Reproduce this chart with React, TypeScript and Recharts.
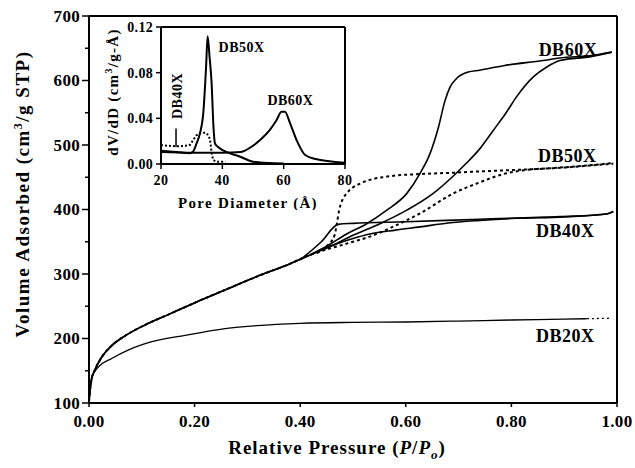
import React from "react";
import { LineChart, Line, XAxis, YAxis, ReferenceLine, ReferenceDot } from "recharts";

const FONT = '"Liberation Serif", "Times New Roman", serif';

// N2 isotherms, [P/P0, volume adsorbed cm3/g STP]
const lowBranch: [number, number][] = [
  [0, 102], [0.002, 120], [0.005, 137], [0.011, 151], [0.024, 171], [0.043, 189],
  [0.068, 204], [0.106, 221], [0.15, 237], [0.191, 252], [0.213, 260], [0.254, 274],
  [0.318, 296], [0.381, 316], [0.42, 330],
];
const db20x: [number, number][] = [
  [0, 102], [0.002, 122], [0.005, 140], [0.018, 156], [0.043, 169], [0.074, 182],
  [0.119, 195], [0.182, 205], [0.217, 210], [0.254, 215], [0.318, 220], [0.4, 223.5],
  [0.5, 225], [0.6, 225.6], [0.7, 227], [0.8, 228.7], [0.9, 230], [0.943, 230.7],
];
const db20xTail: [number, number][] = [[0.943, 230.7], [0.99, 231.5]];
const db40xAds: [number, number][] = [
  [0.44, 338], [0.47, 347], [0.5, 355], [0.532, 362], [0.58, 368], [0.627, 373],
  [0.68, 379], [0.74, 383], [0.8, 386], [0.9, 388.5], [0.98, 393], [0.993, 397],
];
const db40xDes: [number, number][] = [
  [0.4, 322], [0.44, 350], [0.472, 377], [0.5, 378.5], [0.6, 381], [0.74, 385],
  [0.892, 389], [0.98, 393], [0.993, 397],
];
const db50xAds: [number, number][] = [
  [0.45, 338], [0.5, 350], [0.532, 358], [0.58, 375], [0.627, 394], [0.69, 425],
  [0.74, 442], [0.785, 455], [0.816, 460], [0.9, 465], [0.993, 471],
];
const db50xDes: [number, number][] = [
  [0.42, 330], [0.45, 343], [0.465, 360], [0.469, 376], [0.474, 400], [0.48, 415],
  [0.488, 425], [0.513, 440], [0.564, 451], [0.627, 455], [0.69, 457], [0.74, 459],
  [0.797, 461], [0.892, 465], [0.993, 472],
];
const db60xAds: [number, number][] = [
  [0.45, 340], [0.5, 360], [0.551, 378], [0.602, 399], [0.652, 425], [0.69, 452],
  [0.715, 472], [0.74, 494], [0.766, 523], [0.79, 550], [0.81, 575], [0.842, 606],
  [0.867, 621], [0.892, 631], [0.95, 637], [0.99, 644],
];
const db60xDes: [number, number][] = [
  [0.42, 330], [0.45, 343], [0.488, 362], [0.526, 378], [0.564, 399], [0.602, 425],
  [0.627, 456], [0.646, 487], [0.662, 528], [0.674, 568], [0.684, 590], [0.696, 603],
  [0.718, 613], [0.74, 616], [0.785, 623], [0.86, 631], [0.892, 635], [0.955, 639],
  [0.99, 644],
];

// pore size distributions, [diameter A, dV/dD]
const pore40: [number, number][] = [
  [20, 0.0165], [22, 0.016], [25, 0.0155], [28, 0.016], [29.5, 0.0168], [30.5, 0.021],
  [31.5, 0.025], [33, 0.0272], [34.5, 0.0275], [35.5, 0.025], [36, 0.021], [36.5, 0.01],
  [37, 0.0035], [38, 0.002], [41, 0.002],
];
const pore50: [number, number][] = [
  [20, 0.0115], [25, 0.0105], [29.5, 0.0095], [30.5, 0.011], [31.6, 0.018], [32.7, 0.027],
  [33.8, 0.045], [34.7, 0.085], [35.2, 0.112], [35.8, 0.095], [36.5, 0.071], [37.1, 0.033],
  [37.6, 0.018], [39.2, 0.0137], [42.5, 0.0094], [45.8, 0.0064], [50, 0.002], [55, 0.0008],
  [60, 0.0005],
];
const pore60: [number, number][] = [
  [20, 0.0105], [30, 0.0098], [40, 0.0098], [46, 0.0105], [50, 0.016], [52.3, 0.021],
  [55.5, 0.0298], [57.7, 0.0385], [59.3, 0.0458], [60.4, 0.0458], [62.1, 0.0356],
  [64.2, 0.021], [67, 0.0079], [70.8, 0.0041], [76.2, 0.002], [80, 0.001],
];

const pTicks = [0, 0.2, 0.4, 0.6, 0.8, 1.0];
const vTicks = [100, 150, 200, 250, 300, 350, 400, 450, 500, 550, 600, 650, 700];
const dTicks = [20, 40, 60, 80];
const dvTicks = [0, 0.04, 0.08, 0.12];

// label anchors: [name, x, y]
const isoLabels: [string, number, number][] = [
  ["DB60X", 0.907, 647], ["DB50X", 0.906, 483], ["DB40X", 0.902, 367], ["DB20X", 0.902, 204],
];
const poreLabels: [string, number, number][] = [["DB50X", 46.3, 0.1027], ["DB60X", 62.2, 0.0556]];
const pore40Label: [string, number, number] = ["DB40X", 25.4, 0.0596];

const pts = (rows: [number, number][]) => rows.map(([x, y]) => ({ x, y }));

const bold = { fontFamily: FONT, fontWeight: 700, fill: "#000" };

function VolumeTick(props: any) {
  const { x, y, payload } = props;
  const axisX = x + 9; // tickSize + tickMargin
  const major = payload.value % 100 === 0;
  return (
    <g>
      <line x1={axisX - (major ? 7 : 4)} x2={axisX} y1={y} y2={y} stroke="#000" strokeWidth={1.5} />
      {major && (
        <text x={x} y={y} dy="0.35em" textAnchor="end" fontSize={17} letterSpacing={0.3} {...bold}>
          {payload.value}
        </text>
      )}
    </g>
  );
}

const textShape = (name: string, size: number, rotate = false) => (p: any) => (
  <text
    x={p.cx}
    y={p.cy}
    dy="0.35em"
    textAnchor="middle"
    fontSize={size}
    letterSpacing={0.5}
    transform={rotate ? `rotate(-90 ${p.cx} ${p.cy})` : undefined}
    {...bold}
  >
    {name}
  </text>
);

export default function App() {
  const line = (rows: [number, number][], key: string, dashed = false, w = 1.6) => (
    <Line
      key={key}
      data={pts(rows)}
      dataKey="y"
      type="monotone"
      stroke="#000"
      strokeWidth={dashed ? 2 : w}
      strokeDasharray={dashed ? "3 3" : undefined}
      dot={false}
      activeDot={false}
      isAnimationActive={false}
    />
  );
  const axisStroke = { stroke: "#000", strokeWidth: 2 };

  return (
    <div style={{ position: "absolute", left: 0, top: 0, width: 635, height: 468, background: "#fff" }}>
      <LineChart width={635} height={468} margin={{ top: 16, right: 18, bottom: 35, left: 29 }}>
        <XAxis
          dataKey="x"
          type="number"
          domain={[0, 1]}
          ticks={pTicks}
          interval={0}
          tickFormatter={(v: number) => v.toFixed(2)}
          height={30}
          tickSize={4}
          tickMargin={8}
          axisLine={axisStroke}
          tickLine={{ stroke: "#000", strokeWidth: 1.5 }}
          tick={{ fontSize: 17, letterSpacing: 0.3, ...bold }}
        />
        <YAxis
          type="number"
          domain={[100, 700]}
          ticks={vTicks}
          interval={0}
          width={60}
          tickSize={7}
          tickMargin={2}
          tickLine={false}
          axisLine={axisStroke}
          tick={<VolumeTick />}
        />
        <ReferenceLine y={700} stroke="#000" strokeWidth={2} />
        <ReferenceLine x={1} stroke="#000" strokeWidth={2} />
        {line(db20x, "db20x", false, 1.3)}
        <Line
          data={pts(db20xTail)}
          dataKey="y"
          type="linear"
          stroke="#000"
          strokeWidth={1.3}
          strokeDasharray="2 3"
          dot={false}
          activeDot={false}
          isAnimationActive={false}
        />
        {line([...lowBranch, ...db40xAds], "db40a")}
        {line(db40xDes, "db40d")}
        {line([...lowBranch, ...db50xAds], "db50a", true)}
        {line(db50xDes, "db50d", true)}
        {line([...lowBranch, ...db60xAds], "db60a")}
        {line(db60xDes, "db60d")}
        {isoLabels.map(([name, x, y]) => (
          <ReferenceDot key={name} x={x} y={y} r={0} shape={textShape(name, 18)} />
        ))}
        <text
          transform="translate(22,194) rotate(-90)"
          textAnchor="middle"
          dy="0.35em"
          fontSize={19}
          letterSpacing={1.5}
          {...bold}
        >
          Volume Adsorbed (cm<tspan dy={-7} fontSize={12}>3</tspan>
          <tspan dy={7}>/g STP)</tspan>
        </text>
        <text x={337} y={447} textAnchor="middle" dy="0.35em" fontSize={19} letterSpacing={1} {...bold}>
          Relative Pressure (<tspan fontStyle="italic">P</tspan>/<tspan fontStyle="italic">P</tspan>
          <tspan fontStyle="italic" fontSize={13} dy={5}>o</tspan>
          <tspan dy={-5}>)</tspan>
        </text>
      </LineChart>

      <div style={{ position: "absolute", left: 100, top: 10 }}>
        <LineChart width={260} height={200} margin={{ top: 17, right: 15, bottom: 21, left: 21 }}>
          <XAxis
            dataKey="x"
            type="number"
            domain={[20, 80]}
            ticks={dTicks}
            interval={0}
            height={25}
            tickSize={5}
            tickMargin={6}
            axisLine={axisStroke}
            tickLine={{ stroke: "#000", strokeWidth: 1.5 }}
            tick={{ fontSize: 14, letterSpacing: 0.5, ...bold }}
          />
          <YAxis
            type="number"
            domain={[0, 0.12]}
            ticks={dvTicks}
            interval={0}
            width={40}
            tickSize={5}
            tickMargin={3}
            tickFormatter={(v: number) => v.toFixed(2)}
            axisLine={axisStroke}
            tickLine={{ stroke: "#000", strokeWidth: 1.5 }}
            tick={{ fontSize: 14, letterSpacing: 0.3, ...bold }}
          />
          <ReferenceLine y={0.12} stroke="#000" strokeWidth={2} />
          <ReferenceLine x={80} stroke="#000" strokeWidth={2} />
          <Line data={pts(pore40)} dataKey="y" type="linear" stroke="#000" strokeWidth={2}
            strokeDasharray="2 2" dot={false} activeDot={false} isAnimationActive={false} />
          <Line data={pts(pore50)} dataKey="y" type="monotone" stroke="#000" strokeWidth={2}
            dot={false} activeDot={false} isAnimationActive={false} />
          <Line data={pts(pore60)} dataKey="y" type="monotone" stroke="#000" strokeWidth={2}
            dot={false} activeDot={false} isAnimationActive={false} />
          <ReferenceLine
            segment={[{ x: 24.9, y: 0.015 }, { x: 24.9, y: 0.031 }]}
            stroke="#000"
            strokeWidth={1.5}
          />
          {poreLabels.map(([name, x, y]) => (
            <ReferenceDot key={name} x={x} y={y} r={0} shape={textShape(name, 14)} />
          ))}
          <ReferenceDot x={pore40Label[1]} y={pore40Label[2]} r={0} shape={textShape(pore40Label[0], 14, true)} />
          <text
            transform="translate(13,82) rotate(-90)"
            textAnchor="middle"
            dy="0.35em"
            fontSize={15}
            letterSpacing={1.3}
            {...bold}
          >
            dV/dD (cm<tspan dy={-6} fontSize={10}>3</tspan>
            <tspan dy={6}>/g-Å)</tspan>
          </text>
          <text x={148} y={193} textAnchor="middle" dy="0.35em" fontSize={15} letterSpacing={1.3} {...bold}>
            Pore Diameter (Å)
          </text>
        </LineChart>
      </div>
    </div>
  );
}
